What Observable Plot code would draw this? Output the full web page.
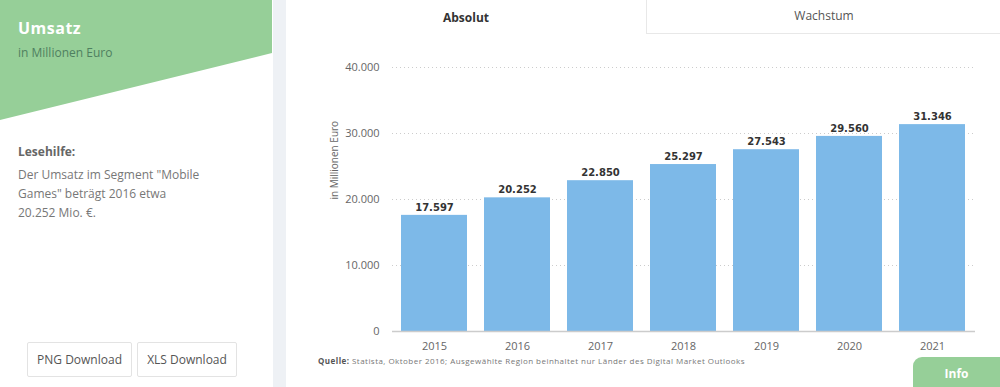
<!DOCTYPE html>
<html>
<head>
<meta charset="utf-8">
<script src="https://cdn.jsdelivr.net/npm/d3@7"></script>
<script src="https://cdn.jsdelivr.net/npm/@observablehq/plot@0.6"></script>
<style>
  html, body { margin: 0; padding: 0; width: 1000px; height: 387px; overflow: hidden; background: #fff; font-family: "Open Sans", sans-serif; }
  .abs { position: absolute; }
  #green { left: 0; top: 0; width: 272px; height: 130px; background: #96cf98; clip-path: polygon(0 0, 100% 0, 100% 53px, 0 120px); }
  #sep { left: 273px; top: 0; width: 13px; height: 387px; background: #eef1f5; }
  .btn { border: 1px solid #e3e3e3; border-radius: 2px; font-size: 12px; color: #555; text-align: center; line-height: 33px; height: 33px; box-sizing: content-box; }
</style>
</head>
<body>
<div id="green" class="abs"></div>
<div id="sep" class="abs"></div>
<div class="abs" style="left:18px;top:17px;font-size:16px;font-weight:bold;color:#fff;letter-spacing:0.5px;">Umsatz</div>
<div class="abs" style="left:18px;top:44px;font-size:12px;color:#4f8060;">in Millionen Euro</div>
<div class="abs" style="left:18px;top:143px;font-size:12px;font-weight:bold;color:#666;">Lesehilfe:</div>
<div class="abs" style="left:18px;top:165px;font-size:12px;color:#777;line-height:19px;">Der Umsatz im Segment "Mobile<br>Games" beträgt 2016 etwa<br>20.252 Mio. €.</div>
<div class="abs btn" style="left:27px;top:342px;width:103px;">PNG Download</div>
<div class="abs btn" style="left:137px;top:342px;width:98px;">XLS Download</div>
<div class="abs" style="left:286px;top:0;width:360px;height:35px;text-align:center;line-height:35px;font-size:12px;font-weight:bold;color:#333;">Absolut</div>
<div class="abs" style="left:646px;top:-1px;width:354px;height:34px;border-left:1px solid #e8e8e8;border-bottom:1px solid #e8e8e8;text-align:center;line-height:34px;font-size:12px;color:#555;">Wachstum</div>
<div id="chart" class="abs" style="left:286px;top:40px;"></div>
<div class="abs" style="left:318px;top:355px;font-size:8px;color:#777;letter-spacing:0.46px;"><b style="color:#555;">Quelle:</b> Statista, Oktober 2016; Ausgewählte Region beinhaltet nur Länder des Digital Market Outlooks</div>
<div class="abs" style="left:913px;top:357px;width:87px;height:30px;background:#96cf98;border-top-left-radius:9px;color:#fff;font-weight:bold;font-size:12px;text-align:center;line-height:34px;">Info</div>
<script>
const years = ["2015", "2016", "2017", "2018", "2019", "2020", "2021"];
const revenue = [17597, 20252, 22850, 25297, 27543, 29560, 31346];
const yTicks = [0, 10000, 20000, 30000, 40000];

const de = d3.formatLocale({decimal: ",", thousands: ".", grouping: [3], currency: ["", " €"]});
const fmt = de.format(",d");
const data = years.map((y, i) => ({year: y, value: revenue[i]}));

const chart = Plot.plot({
  width: 714,
  height: 320,
  marginTop: 27,
  marginBottom: 29,
  marginLeft: 106,
  marginRight: 25,
  style: {fontFamily: "'Open Sans', sans-serif", fontSize: "11px", color: "#666", background: "transparent"},
  x: {domain: years, paddingInner: 0.2, paddingOuter: 0.1, label: null},
  y: {domain: [0, 40000], label: null},
  marks: [
    Plot.gridY(yTicks, {stroke: "#ccc", strokeOpacity: 1, strokeDasharray: "1,3"}),
    Plot.axisY(yTicks, {tickSize: 0, tickPadding: 13, tickFormat: fmt, label: null, fill: "#666"}),
    Plot.axisX({tickSize: 0, tickPadding: 11, label: null, fill: "#666"}),
    Plot.barY(data, {x: "year", y: "value", fill: "#7db9e8"}),
    Plot.ruleY([0], {stroke: "#ccc", strokeWidth: 1.5}),
    Plot.text(data, {x: "year", y: "value", text: d => fmt(d.value), dy: -8, fill: "#333", fontWeight: "bold", fontSize: 10, fontFamily: "'DejaVu Sans', sans-serif"}),
    Plot.text(["in Millionen Euro"], {frameAnchor: "left", dx: -58, rotate: -90, fill: "#666", fontSize: 10})
  ]
});
document.getElementById("chart").appendChild(chart);
</script>
</body>
</html>
